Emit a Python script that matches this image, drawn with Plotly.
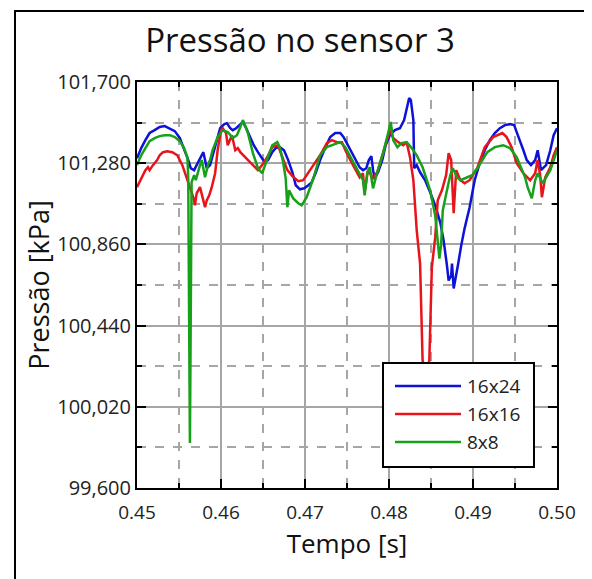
import plotly.graph_objects as go

# ---- data ----
t_16x24 = [0.4500,0.4505,0.4510,0.4515,0.4521,0.4527,0.4533,0.4539,0.4545,0.4551,0.4556,0.4561,0.4564,0.4568,0.4571,0.4575,0.4579,0.4581,0.4583,0.4587,0.4590,0.4594,0.4599,0.4604,0.4607,0.4611,0.4614,0.4618,0.4623,0.4626,0.4630,0.4635,0.4639,0.4644,0.4649,0.4652,0.4656,0.4661,0.4665,0.4670,0.4675,0.4680,0.4685,0.4689,0.4694,0.4699,0.4704,0.4708,0.4713,0.4718,0.4724,0.4730,0.4736,0.4742,0.4746,0.4751,0.4756,0.4761,0.4765,0.4769,0.4773,0.4776,0.4779,0.4781,0.4783,0.4787,0.4792,0.4796,0.4801,0.4807,0.4813,0.4818,0.4821,0.4824,0.4826,0.4829,0.4830,0.4833,0.4837,0.4843,0.4849,0.4855,0.4861,0.4865,0.4869,0.4871,0.4874,0.4875,0.4877,0.4880,0.4882,0.4886,0.4890,0.4896,0.4902,0.4908,0.4914,0.4920,0.4926,0.4932,0.4938,0.4944,0.4949,0.4952,0.4956,0.4960,0.4964,0.4969,0.4974,0.4977,0.4981,0.4983,0.4987,0.4992,0.4996,0.5000]
p_16x24 = [101306,101358,101399,101436,101451,101467,101472,101461,101446,101410,101358,101296,101254,101244,101270,101306,101337,101296,101254,101270,101321,101389,101461,101482,101487,101461,101451,101461,101482,101493,101461,101415,101373,101337,101306,101285,101296,101337,101358,101363,101347,101296,101233,101166,101145,101150,101166,101181,101233,101296,101358,101415,101436,101436,101415,101373,101337,101296,101259,101244,101254,101296,101316,101244,101202,101233,101296,101373,101425,101451,101461,101503,101565,101617,101607,101503,101254,101270,101233,101192,101130,101062,100974,100881,100751,100673,100699,100761,100632,100699,100751,100855,100943,101052,101192,101280,101347,101399,101436,101461,101477,101482,101477,101441,101399,101347,101296,101270,101296,101347,101244,101254,101270,101347,101425,101461]

t_16x16 = [0.4500,0.4505,0.4510,0.4513,0.4515,0.4519,0.4524,0.4527,0.4531,0.4536,0.4542,0.4548,0.4554,0.4558,0.4563,0.4567,0.4569,0.4571,0.4575,0.4579,0.4581,0.4583,0.4586,0.4589,0.4593,0.4596,0.4600,0.4602,0.4606,0.4608,0.4611,0.4613,0.4617,0.4620,0.4623,0.4629,0.4635,0.4640,0.4644,0.4649,0.4655,0.4661,0.4667,0.4670,0.4674,0.4679,0.4685,0.4692,0.4698,0.4704,0.4710,0.4718,0.4726,0.4732,0.4738,0.4744,0.4748,0.4754,0.4762,0.4765,0.4769,0.4771,0.4775,0.4781,0.4786,0.4793,0.4799,0.4801,0.4805,0.4811,0.4817,0.4821,0.4825,0.4829,0.4833,0.4837,0.4840,0.4844,0.4848,0.4851,0.4855,0.4858,0.4863,0.4868,0.4871,0.4874,0.4877,0.4880,0.4885,0.4890,0.4896,0.4905,0.4914,0.4924,0.4935,0.4940,0.4946,0.4952,0.4960,0.4968,0.4974,0.4977,0.4980,0.4982,0.4986,0.4992,0.4996,0.5000]
p_16x16 = [101156,101202,101244,101259,101244,101270,101296,101321,101337,101342,101337,101321,101270,101218,101150,101104,101062,101124,101156,101088,101052,101088,101114,101156,101228,101347,101451,101461,101436,101373,101399,101425,101347,101358,101337,101311,101285,101259,101244,101270,101311,101363,101373,101347,101296,101244,101213,101187,101192,101228,101270,101321,101384,101399,101389,101389,101347,101296,101233,101207,101228,101130,101244,101202,101233,101332,101415,101451,101410,101389,101373,101389,101311,101192,100933,100761,100259,100196,100259,100741,100896,101088,101140,101218,101332,101296,101021,101244,101192,101176,101192,101254,101363,101415,101436,101415,101363,101280,101228,101192,101228,101296,101218,101104,101207,101259,101321,101363]

t_8x8 = [0.4500,0.4505,0.4510,0.4515,0.4521,0.4527,0.4533,0.4539,0.4545,0.4551,0.4556,0.4560,0.4561,0.4563,0.4565,0.4568,0.4570,0.4573,0.4575,0.4577,0.4581,0.4585,0.4587,0.4590,0.4596,0.4602,0.4608,0.4614,0.4619,0.4623,0.4626,0.4630,0.4632,0.4638,0.4644,0.4649,0.4655,0.4661,0.4667,0.4670,0.4674,0.4677,0.4679,0.4681,0.4686,0.4692,0.4696,0.4702,0.4710,0.4718,0.4726,0.4733,0.4742,0.4748,0.4756,0.4763,0.4769,0.4771,0.4774,0.4777,0.4781,0.4785,0.4793,0.4799,0.4802,0.4805,0.4810,0.4815,0.4821,0.4827,0.4833,0.4840,0.4849,0.4855,0.4857,0.4860,0.4862,0.4864,0.4869,0.4873,0.4876,0.4881,0.4885,0.4890,0.4899,0.4906,0.4917,0.4926,0.4936,0.4944,0.4952,0.4962,0.4965,0.4970,0.4974,0.4977,0.4983,0.4992,0.5000]
p_8x8 = [101270,101321,101358,101394,101410,101420,101425,101425,101415,101394,101358,101311,101202,99833,101181,101218,101192,101244,101270,101296,101207,101280,101296,101347,101415,101451,101441,101410,101425,101467,101503,101461,101436,101332,101254,101228,101296,101373,101389,101363,101285,101202,101052,101140,101098,101073,101062,101104,101202,101321,101363,101373,101389,101363,101296,101244,101192,101114,101228,101259,101150,101218,101332,101436,101493,101399,101363,101384,101389,101358,101321,101259,101140,101010,100907,100787,100855,101036,101140,101218,101254,101207,101192,101202,101218,101259,101337,101363,101373,101358,101311,101207,101156,101098,101192,101228,101176,101244,101347]

series_names = ["16x24", "16x16", "8x8"]
series_colors = ["#0d12d8", "#e8141c", "#17a01a"]

y_range = [99600, 101700]
y_dtick = 420
x_range = [0.45, 0.50]
x_dtick = 0.01

FONT = "Open Sans"

fig = go.Figure()
for name, t, p, c in zip(series_names, [t_16x24, t_16x16, t_8x8], [p_16x24, p_16x16, p_8x8], series_colors):
    fig.add_trace(go.Scatter(x=t, y=p, mode="lines", name=name,
                             line=dict(color=c, width=2.5), showlegend=False))

grid_major = "#a6a6a6"
grid_minor = "#a6a6a6"

fig.update_xaxes(range=x_range, tick0=0.45, dtick=x_dtick, tickformat=".2f",
                 showline=True, linecolor="black", linewidth=2, mirror="ticks",
                 ticks="inside", ticklen=9, tickwidth=2, tickcolor="black",
                 showgrid=True, gridcolor=grid_major, gridwidth=1.5,
                 minor=dict(dtick=0.005, tick0=0.45, showgrid=True, gridcolor=grid_minor,
                            griddash="dash", gridwidth=1.5, ticks="inside", ticklen=5,
                            tickcolor="black", tickwidth=2),
                 tickfont=dict(family=FONT, size=19, color="#222"),
                 ticklabelstandoff=6,
                 title=dict(text="Tempo [s]", font=dict(family=FONT, size=26, color="#111"), standoff=8),
                 zeroline=False)
fig.update_yaxes(range=y_range, tick0=99600, dtick=y_dtick, tickformat=",d",
                 showline=True, linecolor="black", linewidth=2, mirror="ticks",
                 ticks="inside", ticklen=9, tickwidth=2, tickcolor="black",
                 showgrid=True, gridcolor=grid_major, gridwidth=1.5,
                 minor=dict(dtick=210, tick0=99600, showgrid=True, gridcolor=grid_minor,
                            griddash="dash", gridwidth=1.5, ticks="inside", ticklen=5,
                            tickcolor="black", tickwidth=2),
                 tickfont=dict(family=FONT, size=20, color="#222"),
                 title=dict(text="Pressão [kPa]", font=dict(family=FONT, size=27, color="#111"), standoff=0),
                 zeroline=False)

# page renders with an 8px body offset; reference coordinates below are screen pixels
OFF = 8
W, H = 592, 579
L, T = 137 - OFF, 82 - OFF
pw, ph = 420, 406
R = W - L - pw
B = H - T - ph

def px(x):
    return (x - OFF - L) / pw

def py(y):
    return (T + ph - (y - OFF)) / ph

shapes = []
# outer frame
shapes.append(dict(type="rect", xref="paper", yref="paper", x0=px(15), x1=px(586), y0=py(590), y1=py(11),
                   line=dict(color="black", width=2), fillcolor="rgba(0,0,0,0)", layer="above"))
# legend box
shapes.append(dict(type="rect", xref="paper", yref="paper", x0=px(383), x1=px(534), y0=py(467), y1=py(363),
                   line=dict(color="black", width=2), fillcolor="white", layer="above"))
annotations = []
for i, (name, c) in enumerate(zip(series_names, series_colors)):
    yy = 386 + 28 * i
    shapes.append(dict(type="line", xref="paper", yref="paper", x0=px(395), x1=px(461), y0=py(yy), y1=py(yy),
                       line=dict(color=c, width=2.5), layer="above"))
    annotations.append(dict(xref="paper", yref="paper", x=px(465), y=py(yy), text=name, showarrow=False,
                            xanchor="left", yanchor="middle",
                            font=dict(family=FONT, size=19, color="#222")))

fig.update_layout(
    width=W, height=H,
    margin=dict(l=L, r=R, t=T, b=B),
    paper_bgcolor="white", plot_bgcolor="white",
    title=dict(text="Pressão no sensor 3", x=px(300), xref="paper", xanchor="center",
               y=1 - (40 - OFF) / H, yref="container", yanchor="middle",
               font=dict(family=FONT, size=33, color="#111")),
    shapes=shapes, annotations=annotations,
    showlegend=False,
)

fig.write_html("out.html")
